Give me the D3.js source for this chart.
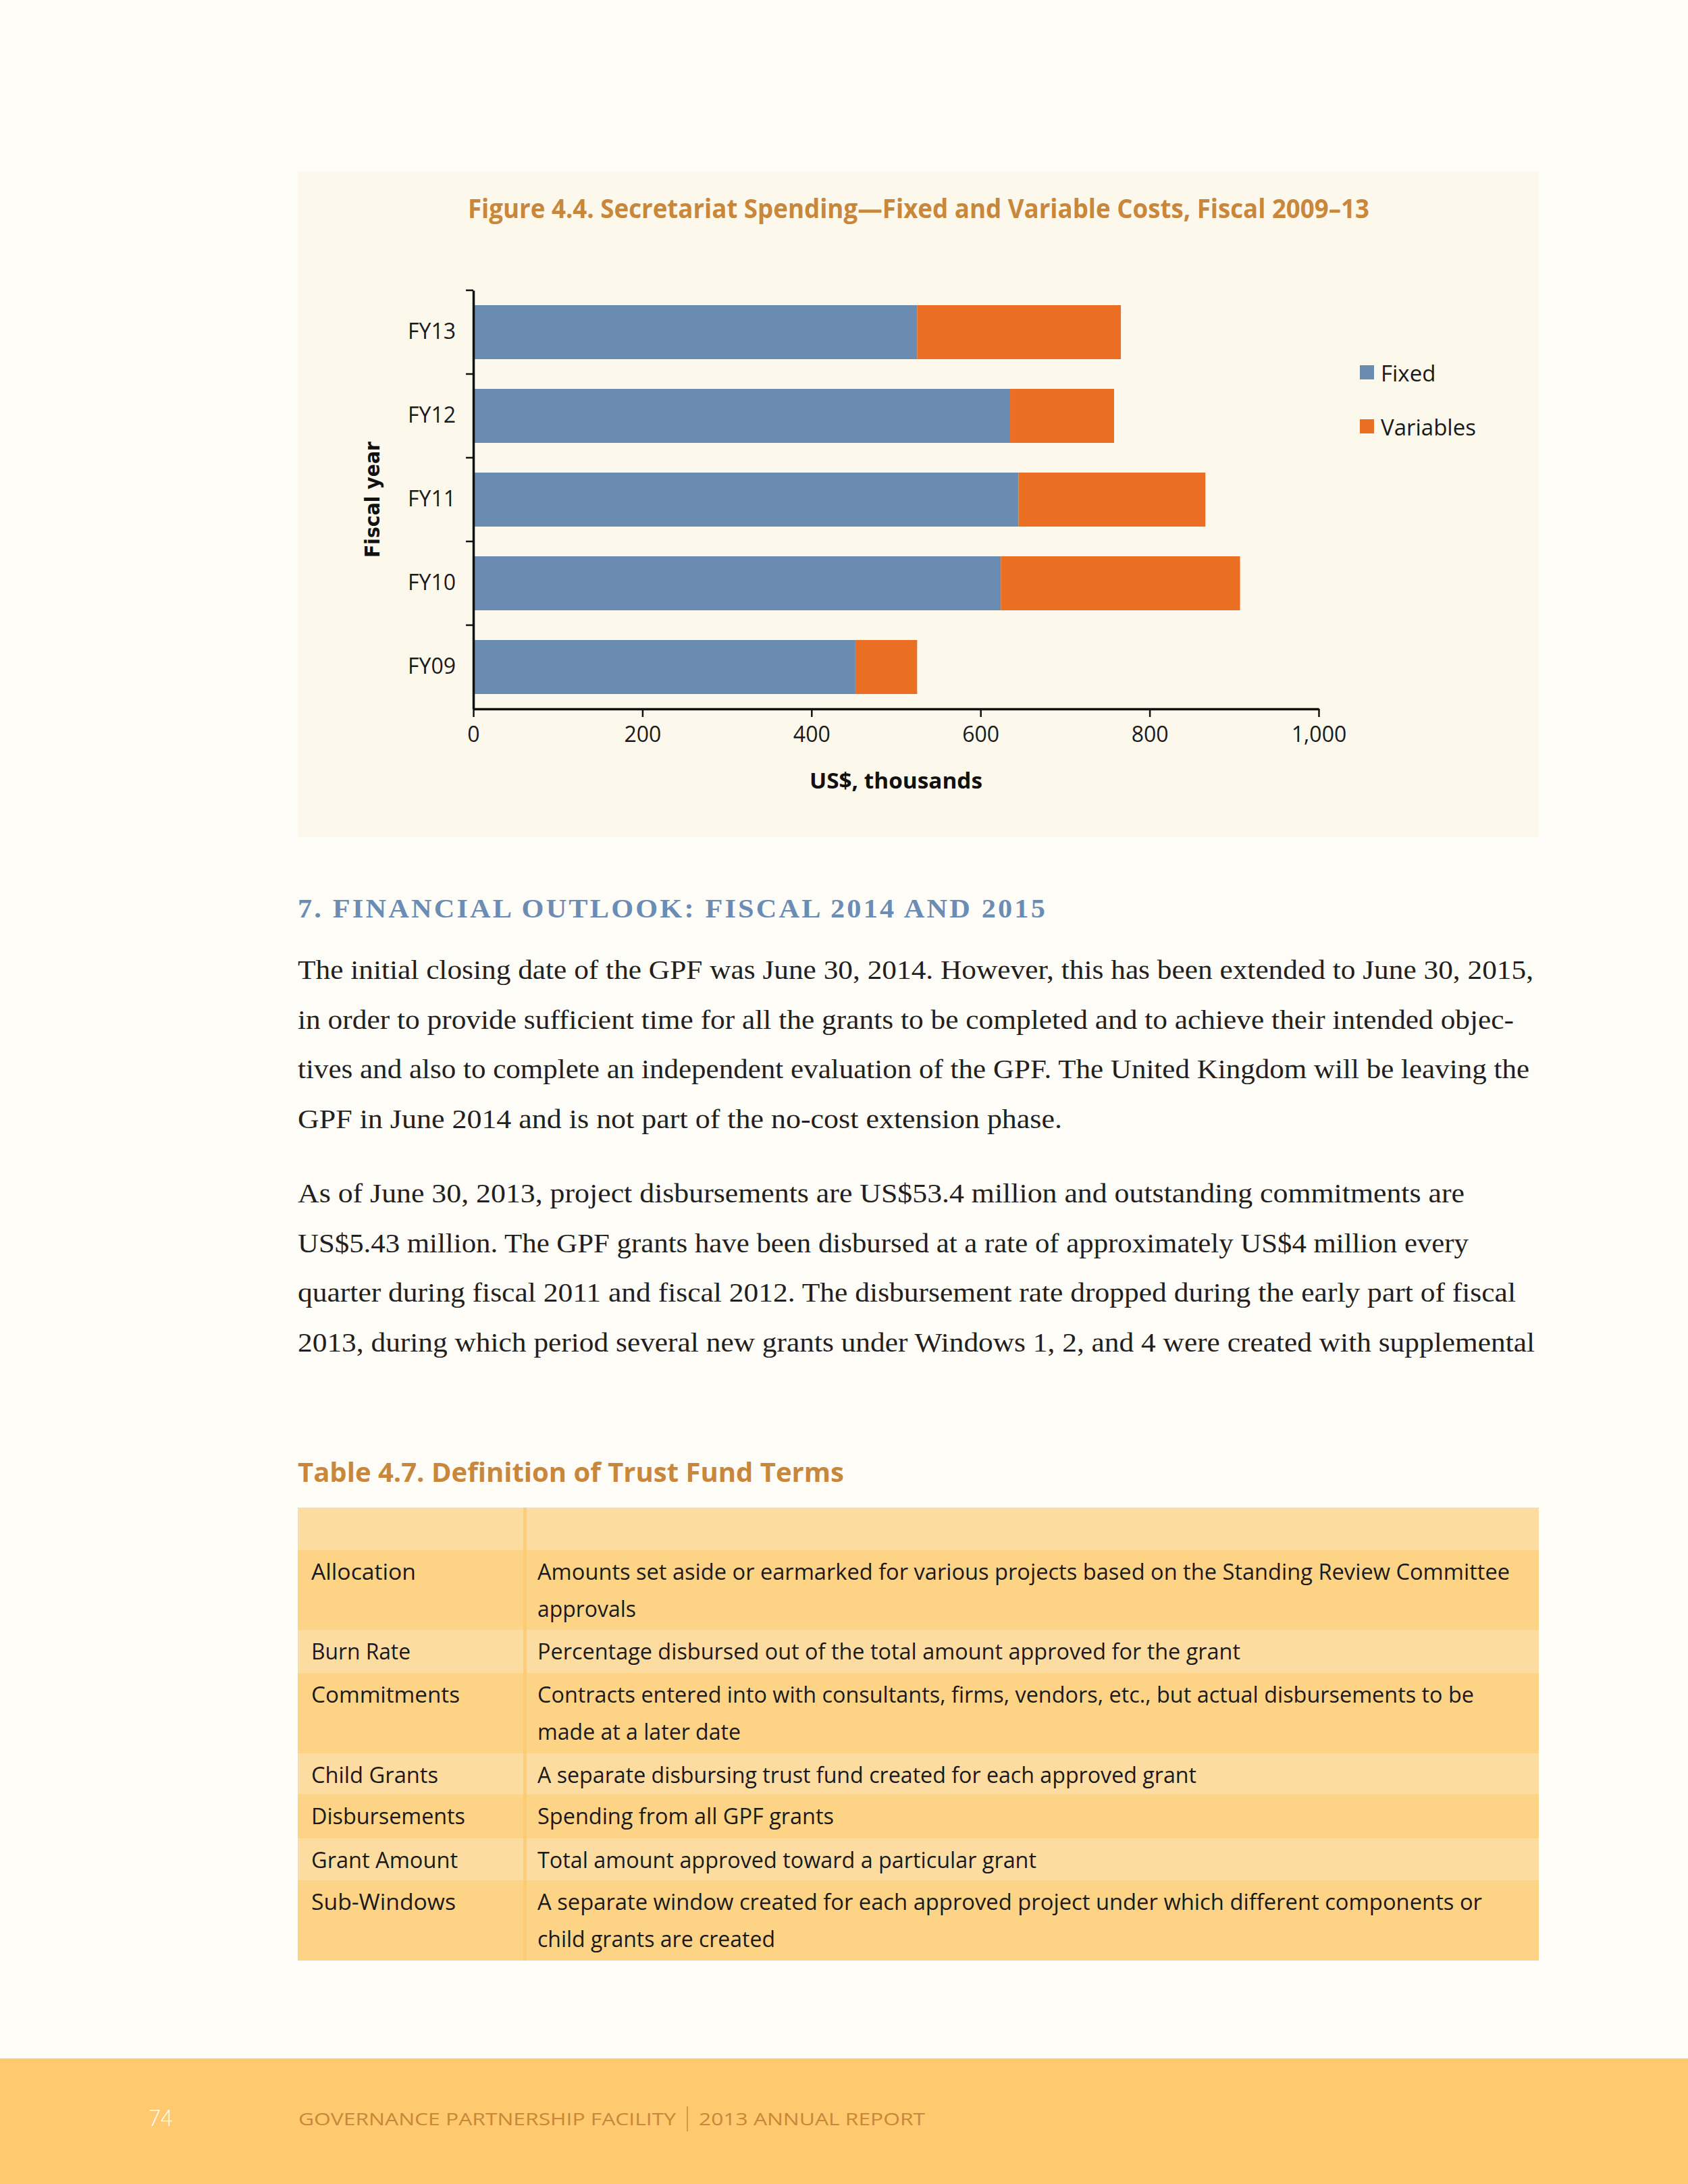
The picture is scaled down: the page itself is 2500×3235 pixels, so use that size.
<!DOCTYPE html>
<html>
<head>
<meta charset="utf-8">
<script src="https://cdn.jsdelivr.net/npm/d3@7"></script>
<style>
  html, body { margin: 0; padding: 0; background: #fefcf6; }
  svg { display: block; }
</style>
</head>
<body>
<div class="page"></div>
<script>

// chart values (US$ thousands)
var years = ["FY13", "FY12", "FY11", "FY10", "FY09"];
var fixedCost = [525, 635, 645, 624, 452];
var variableCost = [241, 123, 221, 283, 73];
var seriesNames = ["Fixed", "Variables"];
var seriesColors = ["#6a8cb2", "#eb6f22"];
var xTicks = [0, 200, 400, 600, 800, 1000];

// page text
var para1 = [
  "The initial closing date of the GPF was June 30, 2014. However, this has been extended to June 30, 2015,",
  "in order to provide sufficient time for all the grants to be completed and to achieve their intended objec-",
  "tives and also to complete an independent evaluation of the GPF. The United Kingdom will be leaving the",
  "GPF in June 2014 and is not part of the no-cost extension phase."
];
var para2 = [
  "As of June 30, 2013, project disbursements are US$53.4 million and outstanding commitments are",
  "US$5.43 million. The GPF grants have been disbursed at a rate of approximately US$4 million every",
  "quarter during fiscal 2011 and fiscal 2012. The disbursement rate dropped during the early part of fiscal",
  "2013, during which period several new grants under Windows 1, 2, and 4 were created with supplemental"
];
var para1Ends = [2271, 2242, 2265, 1573];
var para2Ends = [2169, 2175, 2245, 2273];

var terms = ["Allocation", "Burn Rate", "Commitments", "Child Grants", "Disbursements", "Grant Amount", "Sub-Windows"];
var termEnds = [616, 608, 681, 649, 689, 678, 675];
var definitions = [
  ["Amounts set aside or earmarked for various projects based on the Standing Review Committee", "approvals"],
  ["Percentage disbursed out of the total amount approved for the grant"],
  ["Contracts entered into with consultants, firms, vendors, etc., but actual disbursements to be", "made at a later date"],
  ["A separate disbursing trust fund created for each approved grant"],
  ["Spending from all GPF grants"],
  ["Total amount approved toward a particular grant"],
  ["A separate window created for each approved project under which different components or", "child grants are created"]
];
var definitionEnds = [[2236, 942], [1837], [2183, 1097], [1772], [1235], [1535], [2195, 1148]];

var W = 2500, H = 3235;
var sans = "'Open Sans', 'Noto Sans', sans-serif";
var serif = "'Liberation Serif', 'DejaVu Serif', serif";
var brown = "#c8873a";

var svg = d3.select(".page").append("svg")
  .attr("width", W)
  .attr("height", H);

svg.append("rect").attr("width", W).attr("height", H).attr("fill", "#fefcf6");

// fit a text element to a given right edge
function fitTo(sel, x0, x1) {
  sel.attr("textLength", x1 - x0).attr("lengthAdjust", "spacingAndGlyphs");
}

// ---------- figure panel ----------
svg.append("rect")
  .attr("x", 441).attr("y", 254)
  .attr("width", 1838).attr("height", 986)
  .attr("fill", "#fcf8eb");

svg.append("text")
  .attr("x", 693).attr("y", 323)
  .attr("font-family", sans).attr("font-weight", 700).attr("font-size", 40)
  .attr("fill", brown)
  .text("Figure 4.4. Secretariat Spending\u2014Fixed and Variable Costs, Fiscal 2009\u201313")
  .call(fitTo, 693, 2028);

var x = d3.scaleLinear().domain([0, 1000]).range([701, 1953]);
var y = d3.scaleBand().domain(years).range([430, 1050])
  .paddingInner(0.355).paddingOuter(0.1775);

var rows = years.map(function(yr, i) {
  return { year: yr, Fixed: fixedCost[i], Variables: variableCost[i] };
});
var stack = d3.stack().keys(seriesNames)(rows);

var chart = svg.append("g");

chart.selectAll("g.series")
  .data(stack)
  .enter().append("g")
  .attr("class", "series")
  .attr("fill", function(d, i) { return seriesColors[i]; })
  .selectAll("rect")
  .data(function(d) { return d; })
  .enter().append("rect")
  .attr("x", function(d) { return x(d[0]); })
  .attr("y", function(d) { return y(d.data.year); })
  .attr("width", function(d) { return x(d[1]) - x(d[0]); })
  .attr("height", y.bandwidth());

// x axis
var xAxis = chart.append("g")
  .attr("transform", "translate(0,1050)")
  .call(d3.axisBottom(x).tickValues(xTicks).tickFormat(d3.format(","))
    .tickSize(12).tickSizeOuter(0).tickPadding(14));
xAxis.select(".domain").attr("stroke", "#111").attr("stroke-width", 3.5);
xAxis.selectAll(".tick line").attr("stroke", "#111").attr("stroke-width", 2.5);
xAxis.selectAll(".tick text")
  .attr("font-family", sans).attr("font-size", 32).attr("fill", "#1a1a1a");

// y axis: labels at band centres, ticks at band edges
var yAxis = chart.append("g")
  .attr("transform", "translate(701,0)")
  .call(d3.axisLeft(y).tickSize(0).tickPadding(26));
yAxis.select(".domain").attr("stroke", "#111").attr("stroke-width", 3.5);
yAxis.selectAll(".tick text")
  .attr("font-family", sans).attr("font-size", 32).attr("fill", "#1a1a1a");

var edges = d3.range(years.length).map(function(i) { return y.range()[0] + i * y.step(); });
chart.selectAll("line.edge")
  .data(edges)
  .enter().append("line")
  .attr("class", "edge")
  .attr("x1", 690).attr("x2", 701)
  .attr("y1", function(d) { return d; })
  .attr("y2", function(d) { return d; })
  .attr("stroke", "#111").attr("stroke-width", 2.5);

chart.append("text")
  .attr("x", 1327).attr("y", 1168)
  .attr("text-anchor", "middle")
  .attr("font-family", sans).attr("font-weight", 700).attr("font-size", 32)
  .attr("fill", "#111")
  .text("US$, thousands")
  .call(fitTo, 1199, 1455);

chart.append("text")
  .attr("transform", "translate(562,740) rotate(-90)")
  .attr("text-anchor", "middle")
  .attr("font-family", "'DejaVu Sans', sans-serif").attr("font-weight", 700).attr("font-size", 30)
  .attr("fill", "#111")
  .text("Fiscal year")
  .call(fitTo, 0, 172);

// legend
var legend = chart.selectAll("g.legend")
  .data(seriesNames)
  .enter().append("g")
  .attr("class", "legend")
  .attr("transform", function(d, i) { return "translate(2014," + (541 + i * 80) + ")"; });
legend.append("rect")
  .attr("width", 21).attr("height", 21)
  .attr("fill", function(d, i) { return seriesColors[i]; });
legend.append("text")
  .attr("x", 31).attr("y", 24)
  .attr("font-family", sans).attr("font-size", 33).attr("fill", "#1a1a1a")
  .text(function(d) { return d; });

// ---------- section 7 ----------
svg.append("text")
  .attr("x", 441).attr("y", 1359)
  .attr("font-family", serif).attr("font-weight", 700).attr("font-size", 40)
  .attr("letter-spacing", 3)
  .attr("fill", "#6a8cb5")
  .text("7. FINANCIAL OUTLOOK: FISCAL 2014 AND 2015")
  .call(fitTo, 441, 1551);

function bodyLines(lines, ends, top) {
  svg.append("g").selectAll("text")
    .data(lines)
    .enter().append("text")
    .attr("x", 441)
    .attr("y", function(d, i) { return top + i * 73.7; })
    .attr("font-family", serif).attr("font-size", 40).attr("fill", "#231f20")
    .text(function(d) { return d; })
    .attr("textLength", function(d, i) { return ends[i] - 441; })
    .attr("lengthAdjust", "spacingAndGlyphs");
}
bodyLines(para1, para1Ends, 1450);
bodyLines(para2, para2Ends, 1781);

// ---------- table 4.7 ----------
svg.append("text")
  .attr("x", 441).attr("y", 2195)
  .attr("font-family", sans).attr("font-weight", 700).attr("font-size", 40)
  .attr("fill", brown)
  .text("Table 4.7. Definition of Trust Fund Terms")
  .call(fitTo, 441, 1250);

var rowTops = [2233, 2296, 2414, 2478, 2597, 2658, 2723, 2785, 2904];
var tbl = svg.append("g");
tbl.selectAll("rect.row")
  .data(rowTops.slice(0, -1))
  .enter().append("rect")
  .attr("class", "row")
  .attr("x", 441).attr("width", 1838)
  .attr("y", function(d) { return d; })
  .attr("height", function(d, i) { return rowTops[i + 1] - d; })
  .attr("fill", function(d, i) { return i % 2 === 0 ? "#fddca2" : "#fdd386"; });

tbl.append("rect")
  .attr("x", 775).attr("y", 2233).attr("width", 5).attr("height", 2904 - 2233)
  .attr("fill", "#fbc96f").attr("opacity", 0.8);

tbl.selectAll("text.term")
  .data(terms)
  .enter().append("text")
  .attr("class", "term")
  .attr("x", 461)
  .attr("y", function(d, i) { return rowTops[i + 1] + 44; })
  .attr("font-family", sans).attr("font-size", 32).attr("fill", "#1a1a1a")
  .text(function(d) { return d; })
  .attr("textLength", function(d, i) { return termEnds[i] - 461; })
  .attr("lengthAdjust", "spacingAndGlyphs");

definitions.forEach(function(lines, i) {
  tbl.selectAll(null)
    .data(lines)
    .enter().append("text")
    .attr("x", 796)
    .attr("y", function(d, j) { return rowTops[i + 1] + 44 + j * 55; })
    .attr("font-family", sans).attr("font-size", 32).attr("fill", "#1a1a1a")
    .text(function(d) { return d; })
    .attr("textLength", function(d, j) { return definitionEnds[i][j] - 796; })
    .attr("lengthAdjust", "spacingAndGlyphs");
});

// ---------- footer ----------
svg.append("rect")
  .attr("x", 0).attr("y", 3049).attr("width", W).attr("height", H - 3049)
  .attr("fill", "#fec96f");

svg.append("text")
  .attr("x", 220).attr("y", 3149)
  .attr("font-family", "Lato, sans-serif").attr("font-weight", 300).attr("font-size", 34)
  .attr("fill", "#ffffff")
  .text("74")
  .call(fitTo, 220, 256);

svg.append("text")
  .attr("x", 442).attr("y", 3148)
  .attr("font-family", sans).attr("font-size", 25)
  .attr("fill", brown)
  .text("GOVERNANCE PARTNERSHIP FACILITY")
  .call(fitTo, 442, 1001);

svg.append("line")
  .attr("x1", 1018).attr("x2", 1018).attr("y1", 3120).attr("y2", 3157)
  .attr("stroke", brown).attr("stroke-width", 1.5);

svg.append("text")
  .attr("x", 1035).attr("y", 3148)
  .attr("font-family", sans).attr("font-size", 25)
  .attr("fill", brown)
  .text("2013 ANNUAL REPORT")
  .call(fitTo, 1035, 1370);

</script>
</body>
</html>
